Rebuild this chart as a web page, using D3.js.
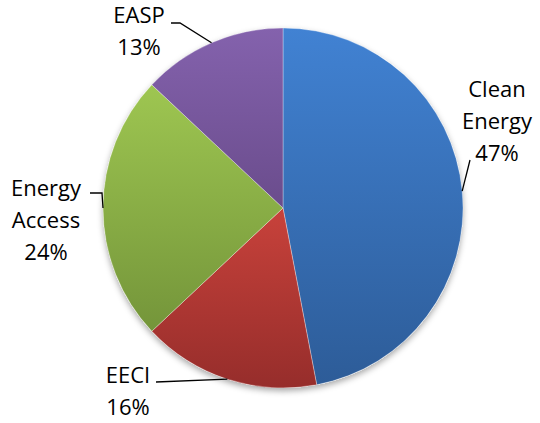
<!DOCTYPE html>
<html>
<head>
<meta charset="utf-8">
<script src="https://cdn.jsdelivr.net/npm/d3@7"></script>
<style>
  body { margin: 0; background: #fff; }
  svg text { font-family: "Open Sans", sans-serif; font-size: 22px; fill: #000; }
</style>
</head>
<body>
<svg id="chart" width="540" height="423"></svg>
<script>
// data
var categories = ['Clean Energy', 'EECI', 'Energy Access', 'EASP'];
var values = [47, 16, 24, 13];
var pctLabels = ['47%', '16%', '24%', '13%'];
var labelLines = [['Clean', 'Energy', '47%'], ['EECI', '16%'], ['Energy', 'Access', '24%'], ['EASP', '13%']];

// colours (top, bottom of each slice gradient)
var colorsTop = ['#4182d3', '#c8423b', '#9ec651', '#8462ad'];
var colorsBottom = ['#2d5c98', '#962d2b', '#74953a', '#6a4c8c'];

// label layout: text centre x, first baseline, leader start points
var labelX = [497, 128, 46, 139];
var labelY = [97, 383, 196, 23];
var lineStep = [32, 32, 32, 32];
var leaderStart = [[[470, 160]], [[156, 382]], [[90, 193], [102, 193]], [[171, 23], [180, 23]]];

var cx = 283, cy = 208, r = 180;

var svg = d3.select('#chart');
var defs = svg.append('defs');

// soft shadow under the pie
var f = defs.append('filter').attr('id', 'shadow')
  .attr('x', '-10%').attr('y', '-10%').attr('width', '120%').attr('height', '125%');
f.append('feDropShadow').attr('dx', 0).attr('dy', 3).attr('stdDeviation', 3)
  .attr('flood-color', '#000').attr('flood-opacity', 0.35);

categories.forEach(function(c, i) {
  var g = defs.append('linearGradient').attr('id', 'grad' + i)
    .attr('x1', 0).attr('y1', 0).attr('x2', 0).attr('y2', 1);
  g.append('stop').attr('offset', '0%').attr('stop-color', colorsTop[i]);
  g.append('stop').attr('offset', '100%').attr('stop-color', colorsBottom[i]);
});

var data = categories.map(function(c, i) { return {name: c, value: values[i], i: i}; });

var pie = d3.pie().sort(null).value(function(d) { return d.value; });
var arc = d3.arc().innerRadius(0).outerRadius(r);
var arcs = pie(data);

var g = svg.append('g').attr('transform', 'translate(' + cx + ',' + cy + ')');

g.append('circle').attr('r', r).attr('fill', '#fff').attr('filter', 'url(#shadow)');

g.selectAll('path.slice')
  .data(arcs)
  .enter()
  .append('path')
  .attr('class', 'slice')
  .attr('d', arc)
  .attr('fill', function(d) { return 'url(#grad' + d.data.i + ')'; })
  .attr('stroke', 'rgba(255,255,255,0.45)')
  .attr('stroke-width', 0.7);

// leader lines end on the arc at each slice's mid angle
var line = d3.line();
arcs.forEach(function(d) {
  var i = d.data.i;
  var a = (d.startAngle + d.endAngle) / 2;
  var end = [cx + r * Math.sin(a), cy - r * Math.cos(a)];
  var pts = leaderStart[i].concat([end]);
  svg.append('path')
    .attr('d', line(pts))
    .attr('fill', 'none')
    .attr('stroke', '#000')
    .attr('stroke-width', 1.3);

  var t = svg.append('text')
    .attr('text-anchor', 'middle');
  labelLines[i].forEach(function(s, k) {
    t.append('tspan')
      .attr('x', labelX[i])
      .attr('y', labelY[i] + k * lineStep[i])
      .text(s);
  });
});
</script>
</body>
</html>
